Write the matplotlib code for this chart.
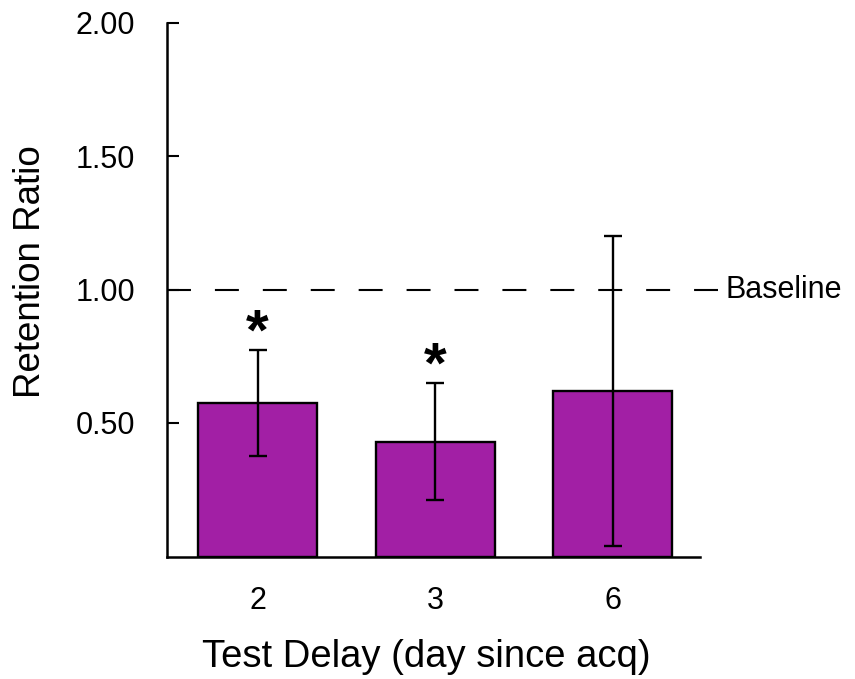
import matplotlib
matplotlib.use("Agg")
import matplotlib.pyplot as plt

plt.rcParams['font.family'] = ['Liberation Sans', 'DejaVu Sans']

categories = ['2', '3', '6']
means = [0.575, 0.43, 0.62]
errors = [0.20, 0.22, 0.58]
significant = [True, True, False]
baseline = 1.0
y_ticks = [0.5, 1.0, 1.5, 2.0]
y_tick_labels = ['0.50', '1.00', '1.50', '2.00']

fig = plt.figure(figsize=(8.55, 6.79), dpi=100)
ax = fig.add_axes([167/855, 1-556.5/679, (700-167)/855, (556.5-22.5)/679])

x = list(range(len(categories)))
ax.bar(x, means, width=0.67, color='#A21FA5', edgecolor='black', linewidth=1.7, zorder=2)
ax.errorbar(x, means, yerr=errors, fmt='none', ecolor='black', elinewidth=1.7,
            capsize=6.5, capthick=1.7, zorder=3)

for xi, m, e, s in zip(x, means, errors, significant):
    if s:
        ax.text(xi, m + e, '*', ha='center', va='baseline', fontsize=42,
                fontweight='bold', zorder=4)

ax.plot([-0.51, 2.59], [baseline, baseline], color='black', lw=1.5,
        linestyle=(0, (11.5, 11.5)), clip_on=False, zorder=1)
ax.text(2.635, baseline, 'Baseline', ha='left', va='center', fontsize=22)

ax.set_xlim(-0.51, 2.49)
ax.set_ylim(0, 2.0)
ax.set_xticks(x)
ax.set_xticklabels(categories, fontsize=22)
ax.set_yticks(y_ticks)
ax.set_yticklabels(y_tick_labels, fontsize=22)
ax.tick_params(axis='y', direction='in', length=8.6, width=1.5, pad=23)
ax.tick_params(axis='x', length=0, pad=21)

for side in ['top', 'right']:
    ax.spines[side].set_visible(False)
for side in ['left', 'bottom']:
    ax.spines[side].set_linewidth(1.8)

ax.set_xlabel('Test Delay (day since acq)', fontsize=27.5, labelpad=17)
ax.set_ylabel('Retention Ratio', fontsize=26.5, labelpad=20)
ax.xaxis.label.set_x((426-167)/533)
ax.yaxis.label.set_y((556.5-271.5)/534)

fig.savefig('out.png', dpi=100)
